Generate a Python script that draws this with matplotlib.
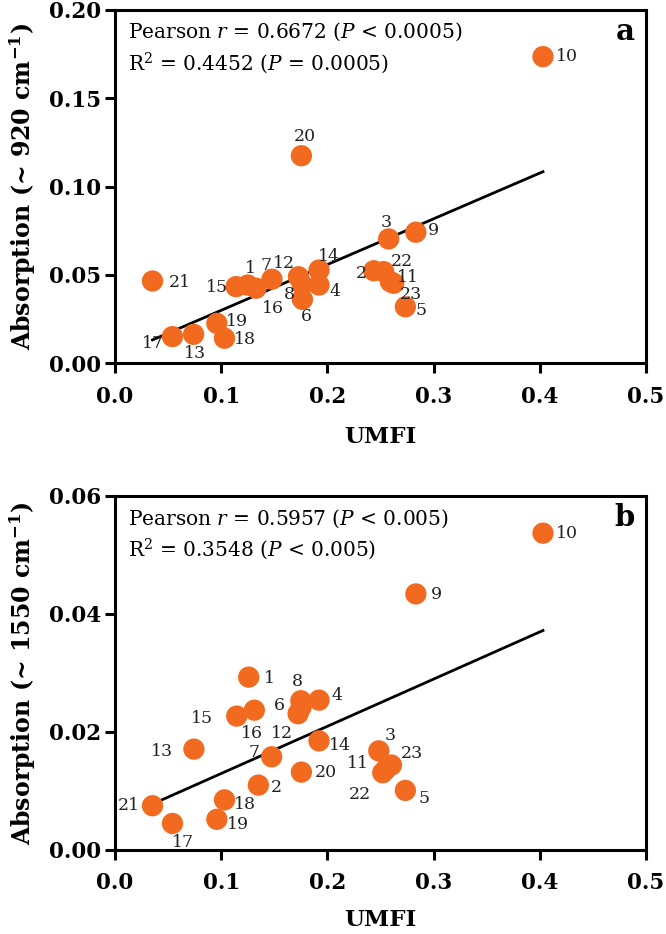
import numpy as np
import matplotlib.pyplot as plt

plt.rcParams['font.family'] = 'DejaVu Serif'
plt.rcParams['mathtext.fontset'] = 'dejavuserif'

# sample numbers (same order for every array)
ids = ['1', '2', '3', '4', '5', '6', '7', '8', '9', '10', '11', '12',
       '13', '14', '15', '16', '17', '18', '19', '20', '21', '22', '23']

# panel a: UMFI vs absorption at ~920 cm-1
umfi_a = [0.1250, 0.2437, 0.2577, 0.1921, 0.2734, 0.1765, 0.1478, 0.1765,
          0.2833, 0.4030, 0.2593, 0.1727, 0.0740, 0.1921, 0.1140, 0.1328,
          0.0541, 0.1031, 0.0959, 0.1755, 0.0353, 0.2530, 0.2624]
abs_920 = [0.0443, 0.0524, 0.0704, 0.0443, 0.0320, 0.0362, 0.0476, 0.0443,
           0.0742, 0.1736, 0.0462, 0.0490, 0.0164, 0.0528, 0.0434, 0.0425,
           0.0151, 0.0142, 0.0226, 0.1175, 0.0466, 0.0519, 0.0453]

# panel b: UMFI vs absorption at ~1550 cm-1
umfi_b = [0.1259, 0.1350, 0.2484, 0.1921, 0.2734, 0.1724, 0.1475, 0.1750,
          0.2833, 0.4030, 0.2552, 0.1752, 0.0743, 0.1921, 0.1146, 0.1312,
          0.0541, 0.1031, 0.0959, 0.1755, 0.0353, 0.2521, 0.2603]
abs_1550 = [0.0293, 0.0110, 0.0168, 0.0254, 0.0101, 0.0231, 0.0158, 0.0253,
            0.0434, 0.0537, 0.0137, 0.0242, 0.0171, 0.0185, 0.0227, 0.0237,
            0.0045, 0.0085, 0.0052, 0.0132, 0.0075, 0.0131, 0.0144]

text_a = ['Pearson $r$ = 0.6672 ($P$ < 0.0005)', 'R$^2$ = 0.4452 ($P$ = 0.0005)']
text_b = ['Pearson $r$ = 0.5957 ($P$ < 0.005)', 'R$^2$ = 0.3548 ($P$ < 0.005)']

# label offsets in pixels (dx right, dy down)
off_a = {'1': (3, -17), '2': (-12, 3), '3': (-2, -16), '4': (16, 6), '5': (16, 4),
         '6': (4, 17), '7': (-6, -14), '8': (-13, 9), '9': (18, -2), '10': (24, 0),
         '11': (18, -4), '12': (-14, -13), '13': (1, 19), '14': (10, -14),
         '15': (-19, 1), '16': (17, 20), '17': (-19, 7), '18': (20, 1),
         '19': (20, -2), '20': (3, -19), '21': (27, 2), '22': (18, -10), '23': (17, 11)}
off_b = {'1': (21, 1), '2': (18, 2), '3': (11, -15), '4': (18, -5), '5': (19, 8),
         '6': (-19, -8), '7': (-18, -4), '8': (-3, -19), '9': (21, 1), '10': (24, 0),
         '11': (-28, -6), '12': (-19, 26), '13': (-32, 2), '14': (21, 5),
         '15': (-35, 2), '16': (-2, 23), '17': (11, 19), '18': (20, 5),
         '19': (21, 5), '20': (24, 0), '21': (-24, 0), '22': (-23, 22), '23': (20, -12)}

orange = '#F26A1F'
px = 72 / 100

fig = plt.figure(figsize=(6.66, 9.34), dpi=100)
ax1 = fig.add_axes([115 / 666, 1 - 363.3 / 934, 531 / 666, 353.3 / 934])
ax2 = fig.add_axes([115 / 666, 1 - 850 / 934, 531 / 666, 354 / 934])


def panel(ax, x, y, offs, txt, ylab, ymax, ystep, letter, xlab_y):
    x = np.array(x)
    y = np.array(y)
    b1, b0 = np.polyfit(x, y, 1)
    xl = np.array([x.min(), x.max()])
    ax.plot(xl, b0 + b1 * xl, color='black', lw=2, zorder=2)
    ax.scatter(x, y, s=235, color=orange, edgecolors='none', zorder=3)
    for i, lab in enumerate(ids):
        dx, dy = offs[lab]
        ax.annotate(lab, (x[i], y[i]), xytext=(dx * px, -dy * px),
                    textcoords='offset points', ha='center', va='center',
                    fontsize=12.5, color='#222222', zorder=4)
    ax.text(0.024, 0.937, txt[0], transform=ax.transAxes, fontsize=14.5,
            va='center', ha='left')
    ax.text(0.024, 0.85, txt[1], transform=ax.transAxes, fontsize=14.5,
            va='center', ha='left')
    ax.text(0.96, 0.94, letter, transform=ax.transAxes, fontsize=21,
            fontweight='bold', ha='center', va='center')
    ax.set_xlim(0, 0.5)
    ax.set_ylim(0, ymax)
    ax.set_xticks(np.arange(0, 0.51, 0.1))
    ax.set_yticks(np.arange(0, ymax + 1e-9, ystep))
    ax.xaxis.set_major_formatter(plt.FormatStrFormatter('%.1f'))
    ax.yaxis.set_major_formatter(plt.FormatStrFormatter('%.2f'))
    for sp in ax.spines.values():
        sp.set_linewidth(2.2)
    ax.tick_params(axis='both', direction='out', length=7, width=2.2,
                   labelsize=15.5)
    ax.tick_params(axis='x', pad=9)
    ax.tick_params(axis='y', pad=3)
    for t in ax.get_xticklabels() + ax.get_yticklabels():
        t.set_fontweight('bold')
    ax.set_xlabel('UMFI', fontsize=16.5, fontweight='bold')
    ax.set_ylabel(ylab, fontsize=17, fontweight='bold')
    ax.xaxis.set_label_coords(0.5, xlab_y)
    ax.yaxis.set_label_coords(-0.145, 0.5)


panel(ax1, umfi_a, abs_920, off_a, text_a, 'Absorption (~ 920 cm$^{\\mathbf{-1}}$)',
      0.20, 0.05, 'a', -0.178)
panel(ax2, umfi_b, abs_1550, off_b, text_b, 'Absorption (~ 1550 cm$^{\\mathbf{-1}}$)',
      0.06, 0.02, 'b', -0.168)

fig.savefig('out.png', dpi=100)
